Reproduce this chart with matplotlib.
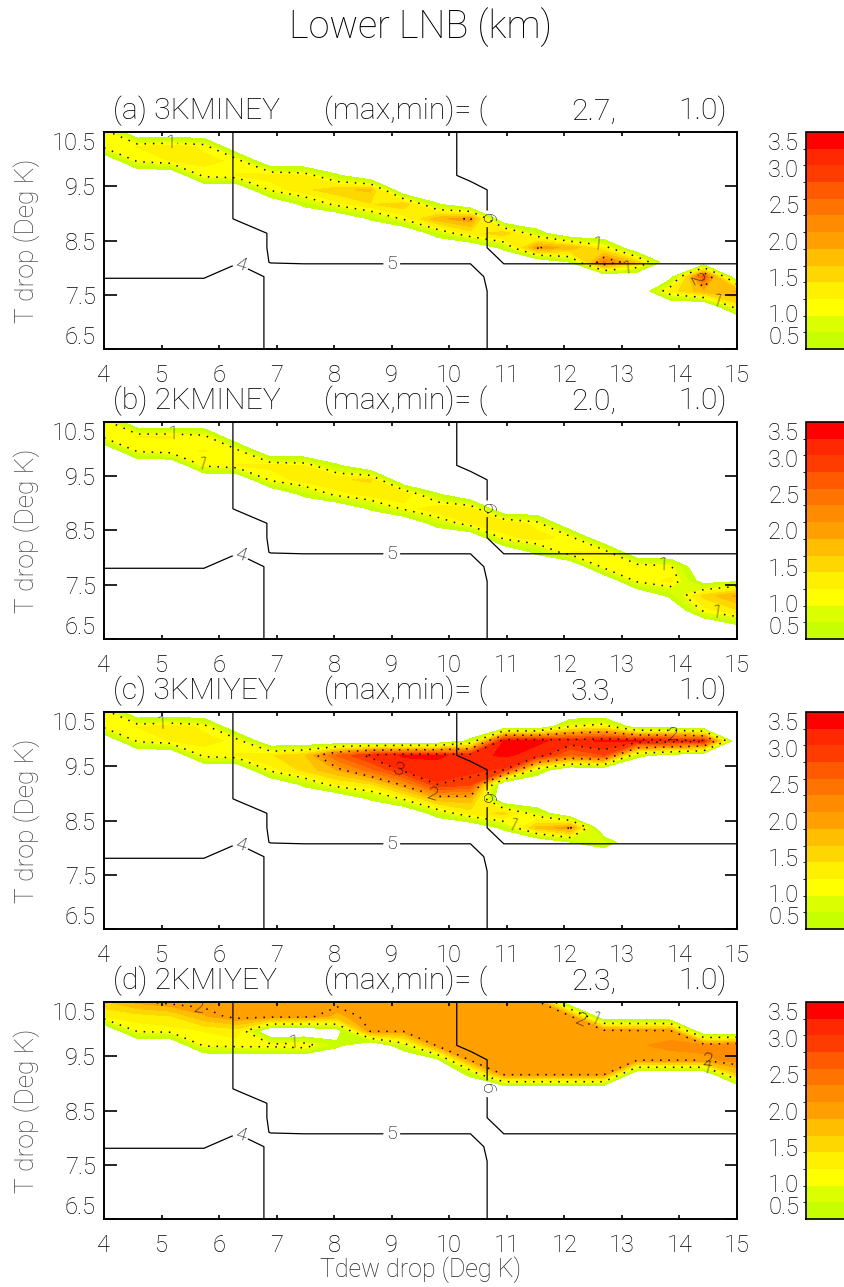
import matplotlib
matplotlib.use("Agg")
import matplotlib.pyplot as plt
from matplotlib import font_manager
import numpy as np
from matplotlib.colors import ListedColormap, BoundaryNorm


def pick_light_family():
    # thin font to stand in for the IDL vector font
    for fam in ["Roboto", "Lato", "Open Sans", "Inter", "Noto Sans"]:
        for f in font_manager.fontManager.ttflist:
            if f.name == fam and f.weight <= 300 and f.style == "normal":
                return fam
    return "DejaVu Sans"


plt.rcParams["font.family"] = [pick_light_family(), "DejaVu Sans"]
plt.rcParams["font.weight"] = "light"
plt.rcParams["axes.labelweight"] = "light"

# model grid
TDEW_DROP = np.linspace(4.0, 15.0, 20)
T_DROP = np.linspace(6.5, 10.5, 16)

PANEL_NAMES = ["(a) 3KMINEY", "(b) 2KMINEY", "(c) 3KMIYEY", "(d) 2KMIYEY"]
PANEL_MAX = [2.7, 2.0, 3.3, 2.3]
PANEL_MIN = [1.0, 1.0, 1.0, 1.0]

# Lower LNB (km), one entry per Tdew drop column:
# (first T drop row index, values going up). Zero everywhere else.
LNB_A = [
    (14, [1.1, 1.2]), (13, [1.05, 1.2]), (13, [1.2, 1.3]), (12, [1.1, 1.25, 1.15]),
    (12, [1.2, 1.15]), (11, [1.05, 1.3]), (10, [0.6, 1.35, 1.2]), (10, [1.1, 1.6, 0.55]),
    (9, [0.55, 1.4, 1.7]), (9, [1.05, 1.6]), (8, [0.7, 1.8, 0.55]), (8, [1.3, 2.05]),
    (7, [0.6, 1.6]), (7, [2.05, 0.7]), (6, [0.5, 1.8]), (6, [2.4, 1.2]),
    (6, [1.6]), (4, [1.3, 0.3]), (4, [1.8, 2.7]), (3, [1.3, 1.9]),
]
LNB_B = [
    (14, [1.1, 1.2]), (13, [1.05, 1.2]), (13, [1.15, 1.2]), (12, [1.05, 1.2, 1.1]),
    (12, [1.2, 1.1]), (11, [1.05, 1.25]), (10, [0.6, 1.3, 1.2]), (10, [1.1, 1.4, 0.55]),
    (9, [0.55, 1.3, 1.45]), (9, [1.05, 1.4]), (8, [0.7, 1.4, 0.55]), (8, [1.2, 1.3]),
    (7, [1.1, 1.4]), (6, [0.6, 1.3, 1.1]), (6, [1.2, 1.1]), (5, [1.1, 1.2]),
    (4, [1.05, 1.2]), (3, [0.6, 1.25, 1.05]), (2, [1.1, 1.5, 0.3]), (1, [0.5, 1.4, 1.95, 0.45]),
]
LNB_C = [
    (14, [1.1, 1.2]), (13, [1.05, 1.2]), (13, [1.2, 1.3]), (12, [1.1, 1.25, 1.15]),
    (12, [1.2, 1.15]), (11, [1.1, 1.4]), (10, [0.6, 1.5, 1.6]), (10, [1.2, 1.9, 2.6]),
    (9, [0.55, 1.4, 2.5, 3.1]), (9, [1.05, 2.1, 3.1, 3.3]), (8, [0.7, 1.8, 3.0, 3.2, 3.3]),
    (8, [1.3, 1.8, 2.9, 3.1, 3.2, 0.6]),
    (7, [0.6, 1.5, 0.0, 0.0, 3.0, 3.3, 3.3]),
    (7, [1.7, 0.8, 0.0, 0.0, 0.8, 3.2, 3.3]),
    (6, [0.5, 2.05, 0.0, 0.0, 0.0, 0.0, 2.5, 3.2, 1.0]),
    (6, [0.8, 0.0, 0.0, 0.0, 0.0, 0.0, 2.8, 3.3, 1.2]),
    (12, [0.6, 3.3, 0.2]), (12, [0.3, 3.2, 0.2]), (13, [3.1]), (0, []),
]
LNB_D = [
    (14, [1.2, 1.6]), (13, [1.05, 1.3, 1.95]), (13, [1.1, 1.4, 2.1]), (12, [1.05, 1.2, 1.85, 2.1]),
    (12, [1.1, 1.3, 2.1, 2.1]), (12, [1.1, 0.0, 2.1, 2.1]), (12, [1.2, 0.0, 2.1, 2.1]),
    (12, [0.6, 0.3, 1.8, 2.1]), (13, [2.05, 2.1, 2.1]), (12, [0.8, 2.05, 2.1, 2.1]),
    (11, [0.4, 2.05, 2.1, 2.1, 2.1]), (10, [0.6, 2.05, 2.1, 2.1, 2.1, 2.1]),
    (10, [2.05, 2.1, 2.1, 2.1, 2.1, 2.1]), (10, [2.05, 2.1, 2.1, 2.1, 2.1, 2.1]),
    (10, [2.05, 2.1, 2.1, 2.1, 2.05]), (10, [2.05, 2.1, 2.1, 2.1]),
    (11, [2.05, 2.1, 2.05]), (11, [2.05, 2.15, 2.05]), (11, [2.05, 2.2]), (10, [1.6, 2.2, 2.3]),
]

# background field drawn as solid contours 4, 5, 6 (same in every panel), per column
BG_COLS = (
    [[3.6] * 5 + [4.05] + [4.6] * 10] * 4
    + [[3.6] * 6 + [4.05] + [4.6] * 2 + [5.06] * 7]
    + [[4.1] * 6 + [5.05] * 3 + [5.5] * 7]
    + [[4.6] * 6 + [5.05] + [5.5] * 9] * 5
    + [[4.6] * 6 + [5.05] + [5.5] * 5 + [6.35] * 4]
    + [[5.4] * 5 + [5.6] + [6.05] + [6.5] * 9]
    + [[5.6] * 6 + [6.05] + [6.5] * 9] * 7
)
BG_LEVELS = [4, 5, 6]
BG_LABEL_POS = [(6.35, 8.0), (9.0, 8.07), (10.6, 8.9)]

DOT_LABEL_POS = [
    [(5.15, 10.3), (12.55, 8.3), (13.1, 7.95), (14.3, 7.8), (14.65, 7.35)],
    [(5.2, 10.25), (5.7, 9.7), (13.7, 7.75), (14.65, 7.0)],
    [(5.0, 10.3), (9.1, 9.4), (9.7, 8.95), (11.1, 8.4), (13.9, 10.1)],
    [(5.65, 10.35), (7.3, 9.75), (12.3, 10.2), (12.6, 10.35), (14.5, 9.5), (14.5, 9.35)],
]

LEVELS = np.linspace(0.5, 3.5, 14)
COLORS = ["#c8ff00", "#dcff00", "#ffff00", "#fff000", "#ffd700", "#ffbe00", "#ffa000",
          "#ff8c00", "#ff7300", "#ff5a00", "#ff3c00", "#ff2800", "#ff0000"]
CB_TICKS = [0.5, 1.0, 1.5, 2.0, 2.5, 3.0, 3.5]


def column_field(cols):
    z = np.zeros((len(T_DROP), len(TDEW_DROP)))
    for k, (j0, vals) in enumerate(cols):
        z[j0:j0 + len(vals), k] = vals
    return z


W, H = 844, 1287
fig = plt.figure(figsize=(W / 100, H / 100), dpi=100)
renderer = fig.canvas.get_renderer()

X, Y = np.meshgrid(TDEW_DROP, T_DROP)
bg = np.array(BG_COLS).T
cmap = ListedColormap(COLORS)
norm = BoundaryNorm(LEVELS, cmap.N)

ax_left, ax_w, ax_h = 104, 633, 217
tops = [132, 422, 712, 1002]

title_size = None
for i, cols in enumerate([LNB_A, LNB_B, LNB_C, LNB_D]):
    top = tops[i]
    ax = fig.add_axes([ax_left / W, 1 - (top + ax_h) / H, ax_w / W, ax_h / H])
    z = column_field(cols)
    cf = ax.contourf(X, Y, z, levels=LEVELS, cmap=cmap, norm=norm)
    cl = ax.contour(X, Y, z, levels=[1, 2, 3], colors="k", linewidths=1.1,
                    linestyles=[(0, (1, 4.5))])
    ax.clabel(cl, manual=DOT_LABEL_POS[i], fmt="%d", fontsize=14, inline=True,
              inline_spacing=2)
    cs = ax.contour(X, Y, bg, levels=BG_LEVELS, colors="k", linewidths=0.9)
    ax.clabel(cs, manual=BG_LABEL_POS, fmt="%d", fontsize=14, inline=True,
              inline_spacing=3)

    ax.set_xlim(4, 15)
    ax.set_ylim(6.5, 10.5)
    ax.set_xticks(range(4, 16))
    ax.set_yticks([6.5, 7.5, 8.5, 9.5, 10.5])
    ax.set_yticklabels(["6.5", "7.5", "8.5", "9.5", "10.5"])
    ax.tick_params(axis="y", direction="in", left=True, right=True, length=9,
                   width=1.2, labelsize=17, pad=6)
    ax.tick_params(axis="x", direction="in", top=True, bottom=True, length=3,
                   width=1.2, labelsize=17, pad=11)
    ylabs = ax.get_yticklabels()
    ylabs[0].set_va("bottom")
    ylabs[-1].set_va("top")
    for s in ax.spines.values():
        s.set_linewidth(1.4)
    ax.set_ylabel("T drop (Deg K)", fontsize=19, color="#444444")
    ax.yaxis.set_label_coords(-(ax_left - 40) / ax_w, 0.5)
    if i == 3:
        ax.set_xlabel("Tdew drop (Deg K)", fontsize=18, color="#222222")
        ax.xaxis.set_label_coords(0.5, -51 / ax_h)
        ax.xaxis.label.set_va("center")

    # title pieces
    base = 1 - (top - 12.5) / H
    t1 = fig.text(113 / W, base, PANEL_NAMES[i], ha="left", va="baseline", fontsize=19)
    if title_size is None:
        wpx = t1.get_window_extent(renderer).width
        title_size = 19 * 167 / wpx
    t1.set_fontsize(title_size)
    fig.text(324 / W, base, "(max,min)= (", ha="left", va="baseline", fontsize=title_size)
    fig.text(616 / W, base, f"{PANEL_MAX[i]:.1f},", ha="right", va="baseline",
             fontsize=title_size)
    fig.text(727 / W, base, f"{PANEL_MIN[i]:.1f})", ha="right", va="baseline",
             fontsize=title_size)

    # colour bar
    cax = fig.add_axes([806 / W, 1 - (top + ax_h) / H, 44 / W, ax_h / H])
    cb = fig.colorbar(cf, cax=cax, ticks=CB_TICKS, ticklocation="left")
    cb.outline.set_linewidth(1.2)
    cax.tick_params(length=0, pad=5, labelsize=17)
    cax.set_yticklabels([f"{t:.1f}" for t in CB_TICKS])
    clabs = cax.get_yticklabels()
    clabs[0].set_va("bottom")
    clabs[-1].set_va("top")

title = fig.text(420.5 / W, 1 - 27 / H, "Lower LNB (km)", ha="center", va="center",
                 fontsize=22)
tw = title.get_window_extent(renderer).width
title.set_fontsize(22 * 262 / tw)

fig.savefig("out.png", dpi=100)
